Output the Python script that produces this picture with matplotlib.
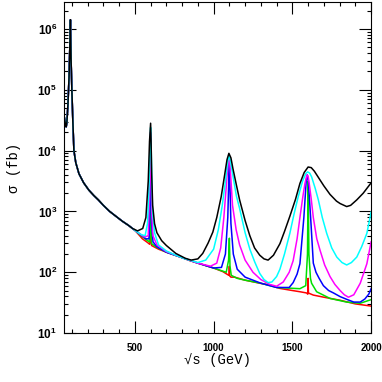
import numpy as np
import matplotlib
matplotlib.use("Agg")
import matplotlib.pyplot as plt
from matplotlib.ticker import MultipleLocator, LogLocator, NullFormatter

# shared part (Z peak + falling continuum), sqrt(s) in GeV, log10(sigma/fb)
shared_x = [50, 55, 60, 64, 68, 75, 82, 88, 91, 95, 100, 106, 113, 125, 145, 175,
            208, 240, 268, 300, 340, 380, 420, 460]
shared_lg = [4.585, 4.50, 4.42, 4.39, 4.45, 4.75, 5.2, 5.8, 6.15, 5.5, 5.0, 4.5,
             4.0, 3.8, 3.62, 3.47, 3.35, 3.26, 3.19, 3.10, 3.0, 2.92, 2.84, 2.77]

bk_x = [485, 517, 550, 570, 585, 593, 600, 603, 607, 613, 625, 640, 670, 700, 760,
        820, 857, 900, 931, 965, 995, 1020, 1048, 1070, 1085, 1097, 1110, 1123, 1145,
        1165, 1200, 1230, 1260, 1293, 1320, 1346, 1380, 1421, 1450, 1484, 1520, 1548,
        1575, 1600, 1620, 1640, 1665, 1700, 1739, 1780, 1803, 1845, 1870, 1909, 1950, 2000]
bk_lg = [2.72, 2.68, 2.72, 2.9, 3.5, 4.15, 4.45, 4.15, 3.6, 3.1, 2.8, 2.65, 2.52, 2.44,
         2.31, 2.23, 2.2, 2.22, 2.31, 2.48, 2.66, 2.9, 3.24, 3.6, 3.85, 3.955, 3.88, 3.7,
         3.43, 3.19, 2.85, 2.6, 2.4, 2.28, 2.22, 2.2, 2.28, 2.47, 2.67, 2.92, 3.2, 3.46,
         3.64, 3.73, 3.72, 3.66, 3.56, 3.42, 3.28, 3.17, 3.13, 3.08, 3.10, 3.19, 3.3, 3.47]

cy_x = [500, 540, 565, 580, 590, 596, 600, 604, 612, 625, 650, 700, 760, 820, 860, 900,
        950, 1000, 1030, 1055, 1075, 1090, 1100, 1112, 1125, 1145, 1165, 1200, 1230, 1261,
        1293, 1320, 1346, 1370, 1400, 1421, 1450, 1484, 1510, 1537, 1565, 1585, 1597, 1610,
        1622, 1645, 1665, 1690, 1718, 1750, 1782, 1815, 1845, 1875, 1909, 1940, 1973, 2000]
cy_lg = [2.69, 2.62, 2.6, 2.8, 3.4, 4.1, 4.38, 4.0, 3.0, 2.65, 2.45, 2.35, 2.28, 2.22,
         2.19, 2.16, 2.2, 2.38, 2.7, 3.1, 3.5, 3.84, 3.91, 3.75, 3.55, 3.25, 3.05, 2.65,
         2.38, 2.17, 1.98, 1.88, 1.83, 1.84, 1.93, 2.05, 2.3, 2.64, 2.95, 3.24, 3.5, 3.62,
         3.65, 3.63, 3.57, 3.38, 3.19, 2.9, 2.64, 2.4, 2.25, 2.16, 2.12, 2.16, 2.25, 2.42,
         2.64, 2.99]

mg_x = [500, 560, 585, 592, 597, 600, 603, 607, 615, 640, 700, 800, 900, 980, 1020, 1045,
        1065, 1080, 1092, 1100, 1108, 1120, 1143, 1165, 1200, 1250, 1300, 1357, 1400, 1442,
        1480, 1505, 1530, 1548, 1567, 1580, 1592, 1600, 1607, 1620, 1633, 1655, 1676, 1705,
        1739, 1770, 1803, 1830, 1856, 1890, 1931, 1973, 2000]
mg_lg = [2.69, 2.58, 2.6, 3.2, 4.0, 4.3, 3.9, 3.0, 2.6, 2.45, 2.34, 2.24, 2.15, 2.1, 2.15,
         2.4, 2.9, 3.4, 3.8, 3.87, 3.6, 3.1, 2.7, 2.45, 2.2, 2.0, 1.88, 1.80, 1.77, 1.84,
         2.0, 2.19, 2.55, 2.9, 3.25, 3.46, 3.6, 3.58, 3.46, 3.2, 2.9, 2.55, 2.36, 2.12,
         1.93, 1.80, 1.70, 1.63, 1.59, 1.63, 1.82, 2.14, 2.5]

bl_x = [500, 570, 590, 596, 600, 603, 606, 615, 640, 700, 800, 900, 1000, 1050, 1075,
        1090, 1097, 1100, 1103, 1110, 1125, 1150, 1200, 1300, 1400, 1480, 1505, 1530, 1548,
        1573, 1588, 1595, 1601, 1616, 1633, 1650, 1670, 1697, 1730, 1761, 1803, 1850, 1890,
        1931, 1960, 1985, 2000]
bl_lg = [2.69, 2.55, 2.55, 3.2, 4.2, 3.6, 2.8, 2.5, 2.42, 2.33, 2.24, 2.15, 2.07, 2.08,
         2.3, 2.9, 3.6, 3.8, 3.5, 2.8, 2.3, 2.05, 1.92, 1.82, 1.75, 1.75, 1.83, 1.97, 2.14,
         2.9, 3.5, 3.6, 3.51, 2.9, 2.15, 2.0, 1.9, 1.78, 1.7, 1.66, 1.6, 1.55, 1.51, 1.51,
         1.56, 1.64, 1.73]

gr_x = [500, 540, 580, 592, 598, 600, 602, 606, 640, 700, 800, 900, 1000, 1080, 1095,
        1100, 1104, 1112, 1150, 1200, 1300, 1400, 1548, 1585, 1596, 1600, 1605, 1615, 1622,
        1654, 1739, 1845, 1930, 2000]
gr_lg = [2.69, 2.6, 2.52, 2.5, 2.9, 3.4, 2.7, 2.47, 2.41, 2.33, 2.24, 2.15, 2.07, 2.0,
         2.2, 2.56, 2.1, 1.95, 1.9, 1.87, 1.82, 1.75, 1.73, 1.78, 2.3, 3.5, 2.3, 1.9, 1.82,
         1.68, 1.57, 1.51, 1.49, 1.55]

rd_x = [500, 548, 580, 594, 599, 600, 601, 606, 650, 700, 800, 850, 900, 950, 1000, 1059,
        1090, 1098, 1100, 1102, 1110, 1133, 1200, 1293, 1357, 1420, 1500, 1548, 1590, 1598,
        1600, 1602, 1610, 1633, 1700, 1803, 1900, 2000]
rd_lg = [2.69, 2.55, 2.49, 2.46, 2.6, 2.65, 2.6, 2.44, 2.38, 2.33, 2.24, 2.19, 2.15, 2.11,
         2.07, 2.01, 1.96, 1.95, 2.1, 1.94, 1.92, 1.92, 1.87, 1.82, 1.79, 1.735, 1.70, 1.68,
         1.66, 1.64, 1.9, 1.66, 1.65, 1.625, 1.59, 1.54, 1.48, 1.444]

curves = [(rd_x, rd_lg, "#ff0000"), (gr_x, gr_lg, "#00e000"), (bl_x, bl_lg, "#0000ff"),
          (mg_x, mg_lg, "#ff00ff"), (cy_x, cy_lg, "#00ffff"), (bk_x, bk_lg, "black")]

fig = plt.figure(figsize=(3.82, 3.82), dpi=100)
ax = fig.add_axes([0.1675, 0.128, 0.804, 0.867])

for xs, lg, col in curves:
    x = np.array(shared_x + xs)
    y = 10.0 ** np.array(shared_lg + lg)
    ax.plot(x, y, color=col, lw=1.1)

ax.set_yscale("log")
ax.set_xlim(50, 2000)
ax.set_ylim(10, 2.78e6)

ax.xaxis.set_major_locator(MultipleLocator(500))
ax.xaxis.set_minor_locator(MultipleLocator(100))
ax.yaxis.set_major_locator(LogLocator(base=10))
ax.yaxis.set_minor_locator(LogLocator(base=10, subs=np.arange(2, 10)))
ax.yaxis.set_minor_formatter(NullFormatter())

ax.tick_params(which="both", direction="in", top=True, right=True, width=0.8)
ax.tick_params(which="major", length=8.5)
ax.tick_params(which="minor", length=3)
ax.tick_params(axis="x", which="major", pad=7, labelsize=7)
ax.tick_params(axis="y", which="major", pad=5, labelsize=8.5)
for lab in ax.get_xticklabels() + ax.get_yticklabels():
    lab.set_fontweight("bold")
    lab.set_family("Liberation Sans")

ax.set_xlabel("√s (GeV)", family="Liberation Mono", fontsize=10, labelpad=0)
ax.set_ylabel("σ (fb)", family=["Liberation Mono", "DejaVu Sans"], fontsize=10, labelpad=12)

fig.savefig("out.png", dpi=100)
